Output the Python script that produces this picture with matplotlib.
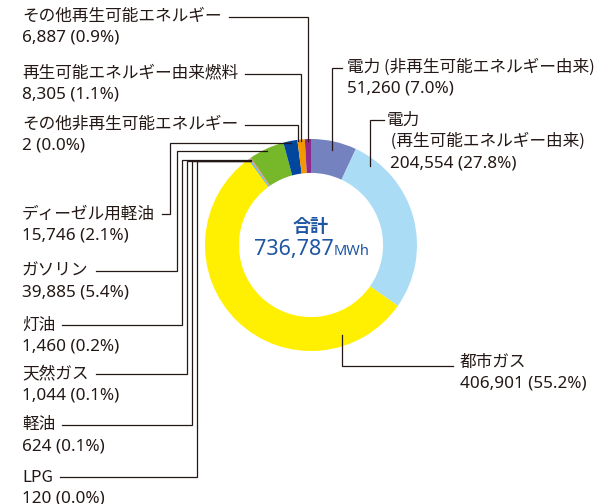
import numpy as np
import matplotlib
matplotlib.use('Agg')
import matplotlib.pyplot as plt

plt.rcParams['font.family'] = ['Noto Sans CJK JP', 'DejaVu Sans']

# 区分（円グラフは12時から時計回り）
names = ['電力（非再生可能エネルギー由来）', '電力（再生可能エネルギー由来）', '都市ガス',
         'LPG', '軽油', '天然ガス', '灯油', 'ガソリン', 'ディーゼル用軽油',
         'その他非再生可能エネルギー', '再生可能エネルギー由来燃料', 'その他再生可能エネルギー']
values = [51260, 204554, 406901, 120, 624, 1044, 1460, 39885, 15746, 2, 8305, 6887]
shares = ['7.0', '27.8', '55.2', '0.0', '0.1', '0.1', '0.2', '5.4', '2.1', '0.0', '1.1', '0.9']
colors = ['#7482C0', '#AADCF5', '#FFEF00', '#9CA0A0', '#00A0E9', '#5BB6E8', '#EB8A7E',
          '#76B82A', '#00479D', '#888888', '#F39800', '#8E2A8C']
total = 736787

# ラベルの文字列（名前の行）
name_lines = [
    ['電力 (非再生可能エネルギー由来)'],
    ['電力', ' (再生可能エネルギー由来)'],
    ['都市ガス'],
    ['LPG'],
    ['軽油'],
    ['天然ガス'],
    ['灯油'],
    ['ガソリン'],
    ['ディーゼル用軽油'],
    ['その他非再生可能エネルギー'],
    ['再生可能エネルギー由来燃料'],
    ['その他再生可能エネルギー'],
]

W, H = 603, 504
fig = plt.figure(figsize=(W / 100, H / 100), dpi=100)
ax = fig.add_axes([0, 0, 1, 1])

cx, cy, R = 311, 245, 106
wedges, _ = ax.pie(values, colors=colors, startangle=-90, counterclock=True,
                   center=(cx, cy), radius=R, wedgeprops=dict(width=R * 0.32, linewidth=0))
ax.set_xlim(0, W)
ax.set_ylim(H, 0)
ax.set_aspect('equal')
ax.axis('off')

txt_col = '#231815'
line_col = '#231815'
fs = 12

# テキスト配置 (x, 1行目のy)
pos = {
    0: (347, 67), 1: (387, 120), 2: (460, 362),
    3: (22, 477), 4: (22, 425), 5: (22, 374), 6: (22, 325), 7: (22, 271), 8: (22, 214),
    9: (22, 124), 10: (22, 73), 11: (22, 16),
}
gap = 21.5

renderer = fig.canvas.get_renderer()
inv = ax.transData.inverted()
text_end = {}
for i, lines in enumerate(name_lines):
    x, y = pos[i]
    t0 = None
    for k, s in enumerate(lines):
        t = ax.text(x, y + k * gap, s, fontsize=fs, color=txt_col, ha='left', va='center')
        if k == 0:
            t0 = t
    num = '{:,} ({}%)'.format(values[i], shares[i])
    nx = x + 3 if i == 1 else x
    ax.text(nx, y + len(lines) * gap, num, fontsize=12.3, color=txt_col, ha='left', va='center',
            family=['Noto Sans', 'DejaVu Sans'])
    bb = t0.get_window_extent(renderer)
    text_end[i] = inv.transform((bb.x1, bb.y0))[0]


def anchor(i, frac=0.5, rf=0.97):
    w = wedges[i]
    th = np.radians(w.theta1 + frac * (w.theta2 - w.theta1))
    return cx + R * rf * np.cos(th), cy + R * rf * np.sin(th)


def draw(pts):
    xs, ys = zip(*pts)
    ax.plot(xs, ys, color=line_col, lw=0.9, solid_joinstyle='miter')


# 上側（縦に下りる）
for i in [9, 10, 11]:
    ax_, ay_ = anchor(i, rf=0.985)
    ty = pos[i][1] + 1
    draw([(text_end[i] + 7, ty), (ax_, ty), (ax_, ay_)])

# 右側
ax_, ay_ = anchor(0, rf=0.92)
draw([(pos[0][0] - 5, pos[0][1] + 1), (ax_, pos[0][1] + 1), (ax_, ay_)])
ax_, ay_ = anchor(1, frac=0.114, rf=0.93)
draw([(pos[1][0] - 3, pos[1][1]), (ax_, pos[1][1]), (ax_, ay_)])
ax_, ay_ = anchor(2, frac=0.18, rf=0.9)
draw([(ax_, ay_), (ax_, pos[2][1] + 4), (pos[2][0] - 7, pos[2][1] + 4)])

# 左側（折れ線）
xv = {8: 170, 7: 177, 6: 182, 5: 187, 4: 192, 3: 197}
for i, v in xv.items():
    ax_, ay_ = anchor(i, rf=0.98)
    ty = pos[i][1]
    draw([(text_end[i] + 7, ty), (v, ty), (v, ay_), (ax_, ay_)])

# 中央
cc = '#1F56A3'
ax.text(cx, 226, '合計', fontsize=13, color=cc, ha='center', va='center', fontweight='bold')
t1 = ax.text(0, 0, '{:,}'.format(total), fontsize=15.5, color=cc, family=['Noto Sans', 'DejaVu Sans'])
t2 = ax.text(0, 0, 'MWh', fontsize=10.5, color=cc, family=['Noto Sans', 'DejaVu Sans'])
w1 = t1.get_window_extent(renderer).width
w2 = t2.get_window_extent(renderer).width
x0 = cx - (w1 + w2) / 2 + 1
t1.set_position((x0, 255))
t1.set_va('baseline')
t2.set_position((x0 + w1, 255))
t2.set_va('baseline')

fig.savefig('out.png', dpi=100)
